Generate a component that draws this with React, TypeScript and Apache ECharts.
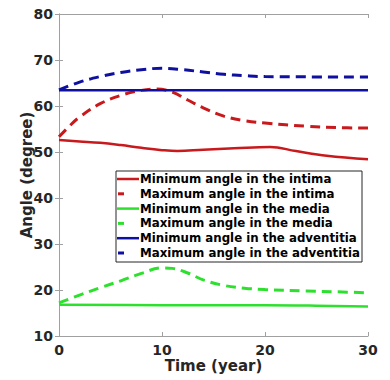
import React, { useEffect, useRef } from "react";
import * as echarts from "echarts";

const seriesNames = [
  "Minimum angle in the intima",
  "Maximum angle in the intima",
  "Minimum angle in the media",
  "Maximum angle in the media",
  "Minimum angle in the adventitia",
  "Maximum angle in the adventitia",
];

const minIntimaT = [0, 2, 4, 6, 8, 10, 11.5, 14, 17, 20.5, 23, 26, 30];
const minIntimaV = [52.6, 52.3, 52.0, 51.5, 50.9, 50.4, 50.2, 50.5, 50.8, 51.1, 50.2, 49.2, 48.4];

const maxIntimaT = [0, 1, 2, 4, 6, 8, 9.5, 11, 12.5, 14, 16, 18, 20, 24, 27, 30];
const maxIntimaV = [53.3, 55.6, 57.6, 60.5, 62.3, 63.4, 63.7, 63.0, 61.3, 59.6, 57.8, 56.8, 56.3, 55.6, 55.3, 55.2];

const minMediaT = [0, 10, 20, 25, 30];
const minMediaV = [16.8, 16.7, 16.7, 16.6, 16.4];

const maxMediaT = [0, 2, 4, 6, 8, 10, 11, 12.5, 14, 16, 18, 20, 24, 27, 30];
const maxMediaV = [17.2, 18.9, 20.5, 22.0, 23.6, 24.8, 24.7, 23.7, 22.2, 21.0, 20.4, 20.1, 19.8, 19.6, 19.4];

const minAdvT = [0, 30];
const minAdvV = [63.4, 63.4];

const maxAdvT = [0, 2, 4, 6, 8, 10, 12, 14, 16, 18, 20, 30];
const maxAdvV = [63.5, 65.2, 66.4, 67.3, 67.9, 68.2, 67.9, 67.4, 66.9, 66.6, 66.4, 66.3];

const xTicks = [0, 10, 20, 30];
const yRange = [10, 80];

const RED = "#c8191c";
const GREEN = "#2ee02e";
const BLUE = "#1010a0";
const seriesColors = [RED, RED, GREEN, GREEN, BLUE, BLUE];
const seriesDashed = [false, true, false, true, false, true];

const zip = (t: number[], v: number[]) => t.map((x, i) => [x, v[i]]);

export default function App() {
  const ref = useRef<HTMLDivElement>(null);
  useEffect(() => {
    if (!ref.current) return;
    const chart = echarts.init(ref.current, undefined, { renderer: "svg" });
    const font = "DejaVu Sans";
    const dash = [10, 6];
    const mk = (name: string, data: number[][], color: string, dashed: boolean) => ({
      name,
      type: "line",
      data,
      smooth: 0.4,
      symbol: "none",
      showSymbol: false,
      lineStyle: { color, width: dashed ? 3 : 2.5, type: dashed ? dash : "solid" },
      itemStyle: { color },
      z: 2,
    });
    const axisLine = { show: true, lineStyle: { color: "#a0a0a0", width: 1 } };
    const tick = { show: true, inside: true, length: 4, lineStyle: { color: "#a0a0a0" } };
    const labelStyle = { color: "#262626", fontWeight: "bold", fontSize: 14, fontFamily: font };

    // MATLAB-style legend box built from graphic elements
    const lgX = 116, lgY = 171, lgW = 246, lgH = 91, rowY0 = 179, rowStep = 14.8;
    const legendChildren: any[] = [
      {
        type: "rect",
        shape: { x: lgX, y: lgY, width: lgW, height: lgH },
        style: { fill: "#fff", stroke: "#262626", lineWidth: 1 },
      },
    ];
    seriesNames.forEach((n, i) => {
      const y = rowY0 + i * rowStep;
      const dashed = seriesDashed[i];
      legendChildren.push({
        type: "line",
        shape: dashed ? { x1: lgX + 2, y1: y, x2: lgX + 8, y2: y } : { x1: lgX + 1, y1: y, x2: lgX + 23, y2: y },
        style: { stroke: seriesColors[i], lineWidth: dashed ? 3 : 2.5 },
      });
      legendChildren.push({
        type: "text",
        x: lgX + 24,
        y,
        style: {
          text: n,
          fill: "#000",
          font: `bold 11.8px "${font}"`,
          verticalAlign: "middle",
          align: "left",
        },
      });
    });

    chart.setOption({
      animation: false,
      grid: { left: 59, top: 14, width: 309, height: 322, containLabel: false },
      graphic: [{ type: "group", z: 100, children: legendChildren }],
      xAxis: [
        {
          type: "value",
          min: xTicks[0],
          max: xTicks[xTicks.length - 1],
          interval: 10,
          axisLine,
          axisTick: tick,
          splitLine: { show: false },
          axisLabel: { ...labelStyle, margin: 7 },
          name: "Time (year)",
          nameLocation: "middle",
          nameGap: 22,
          nameMoveOverlap: false,
          nameTextStyle: { color: "#262626", fontWeight: "bold", fontSize: 15, fontFamily: font },
        },
        {
          type: "value",
          position: "top",
          min: xTicks[0],
          max: xTicks[xTicks.length - 1],
          interval: 10,
          axisLine,
          axisTick: tick,
          splitLine: { show: false },
          axisLabel: { show: false },
        },
      ],
      yAxis: [
        {
          type: "value",
          min: yRange[0],
          max: yRange[1],
          interval: 10,
          axisLine,
          axisTick: tick,
          splitLine: { show: false },
          axisLabel: { ...labelStyle, margin: 6 },
          name: "Angle (degree)",
          nameLocation: "middle",
          nameGap: 25,
          nameMoveOverlap: false,
          nameTextStyle: { color: "#262626", fontWeight: "bold", fontSize: 15, fontFamily: font },
        },
        {
          type: "value",
          position: "right",
          min: yRange[0],
          max: yRange[1],
          interval: 10,
          axisLine,
          axisTick: tick,
          splitLine: { show: false },
          axisLabel: { show: false },
        },
      ],
      series: [
        mk(seriesNames[0], zip(minIntimaT, minIntimaV), RED, false),
        mk(seriesNames[1], zip(maxIntimaT, maxIntimaV), RED, true),
        mk(seriesNames[2], zip(minMediaT, minMediaV), GREEN, false),
        mk(seriesNames[3], zip(maxMediaT, maxMediaV), GREEN, true),
        mk(seriesNames[4], zip(minAdvT, minAdvV), BLUE, false),
        mk(seriesNames[5], zip(maxAdvT, maxAdvV), BLUE, true),
      ],
    });
    return () => chart.dispose();
  }, []);
  return <div ref={ref} style={{ width: 390, height: 380, position: "absolute", left: 0, top: 0, background: "#fff" }} />;
}
